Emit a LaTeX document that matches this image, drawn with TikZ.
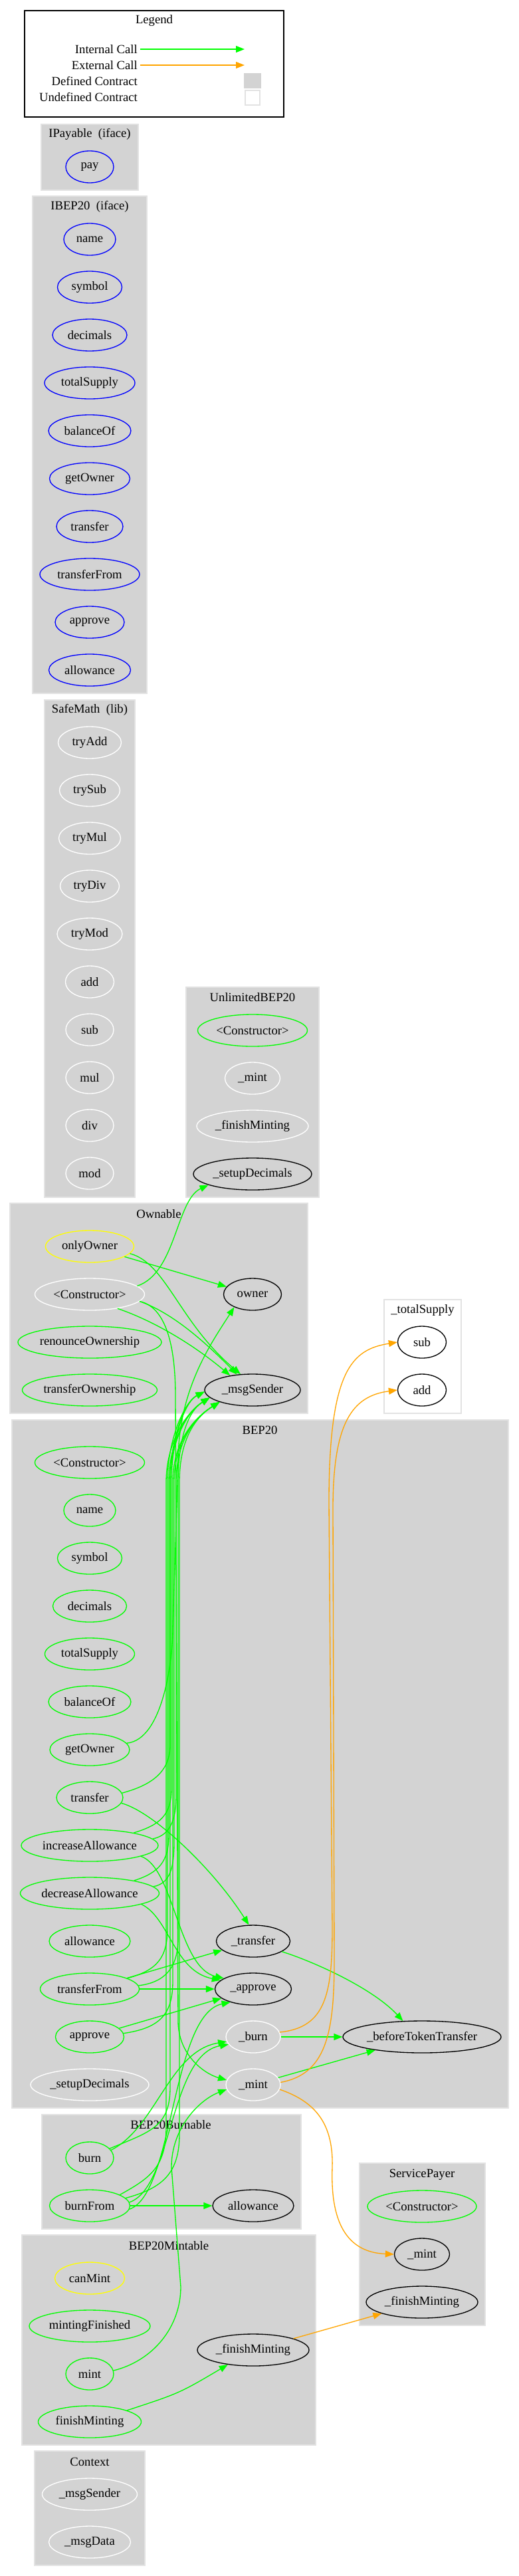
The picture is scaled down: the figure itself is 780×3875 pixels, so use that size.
\documentclass[tikz,border=0pt]{standalone}
\usepackage{fontspec}
\setmainfont{Liberation Serif}
\usetikzlibrary{arrows.meta,shapes.geometric}
\definecolor{callgreen}{RGB}{0,255,0}
\definecolor{callorange}{RGB}{255,165,0}
\definecolor{ctgray}{RGB}{211,211,211}
\definecolor{ctedge}{RGB}{226,226,226}
\definecolor{modyellow}{RGB}{255,255,0}

\begin{document}
\begin{tikzpicture}[
    x=1pt, y=-1pt,
    font=\fontsize{18.67}{22}\selectfont,
    fn/.style={ellipse, draw, line width=1.33pt, minimum height=48pt, inner sep=0pt},
    pub/.style={fn, draw=callgreen},
    ext/.style={fn, draw=blue},
    intl/.style={fn, draw=white},
    undef/.style={fn, draw=black},
    modif/.style={fn, draw=modyellow},
    cluster/.style={fill=ctgray, draw=ctedge, line width=1.33pt},
    ctitle/.style={inner sep=0pt},
    icall/.style={draw=callgreen, line width=1.33pt, -{Triangle[length=13pt,width=10pt]}},
    ecall/.style={icall, draw=callorange}
]
\useasboundingbox[fill=white] (0,0) rectangle (780,3875);

% Legend
\draw[line width=1.33pt] (37,16) rectangle (427,176);
\node[ctitle] (lg_title) at (232,31) {Legend};
\node[ctitle, anchor=east] (lg_int) at (207,74) {Internal Call};
\node[ctitle, anchor=east] (lg_ext) at (207,98) {External Call};
\node[ctitle, anchor=east] (lg_def) at (207,122) {Defined Contract};
\node[ctitle, anchor=east] (lg_undef) at (207,146) {Undefined Contract};
\coordinate (lg_int_a) at (211,74);
\coordinate (lg_int_b) at (368,74);
\coordinate (lg_ext_a) at (211,98);
\coordinate (lg_ext_b) at (368,98);
\draw[icall] (lg_int_a) -- (lg_int_b);
\draw[ecall] (lg_ext_a) -- (lg_ext_b);
\node[fill=ctgray, inner sep=0pt, minimum width=26pt, minimum height=23pt] (lg_defbox) at (380,122) {};
\node[draw=ctedge, line width=1.33pt, inner sep=0pt, minimum width=22pt, minimum height=22pt] (lg_undefbox) at (380,147) {};

% IPayable
\path[cluster] (62,187) rectangle (208,286);
\node[ctitle] (ip_title) at (135,202) {IPayable\ \ (iface)};
\node[ext, minimum width=72pt] (ip_pay) at (135,251) {pay};

% IBEP20
\path[cluster] (49,295) rectangle (221,1043);
\node[ctitle] (ib_title) at (135,311) {IBEP20\ \ (iface)};
\node[ext, minimum width=78pt] (ib_name) at (135,360) {name};
\node[ext, minimum width=97pt] (ib_symbol) at (135,432) {symbol};
\node[ext, minimum width=112pt] (ib_decimals) at (135,504) {decimals};
\node[ext, minimum width=136pt] (ib_totalsupply) at (135,576) {totalSupply};
\node[ext, minimum width=124pt] (ib_balanceof) at (135,648) {balanceOf};
\node[ext, minimum width=121pt] (ib_getowner) at (135,720) {getOwner};
\node[ext, minimum width=100pt] (ib_transfer) at (135,792) {transfer};
\node[ext, minimum width=150pt] (ib_transferfrom) at (135,864) {transferFrom};
\node[ext, minimum width=104pt] (ib_approve) at (135,936) {approve};
\node[ext, minimum width=123pt] (ib_allowance) at (135,1008) {allowance};

% SafeMath
\path[cluster] (67,1053) rectangle (203,1801);
\node[ctitle] (sm_title) at (135,1068) {SafeMath\ \ (lib)};
\node[intl, minimum width=95pt] (sm_tryadd) at (135,1117) {tryAdd};
\node[intl, minimum width=91pt] (sm_trysub) at (135,1189) {trySub};
\node[intl, minimum width=93pt] (sm_trymul) at (135,1261) {tryMul};
\node[intl, minimum width=89pt] (sm_trydiv) at (135,1333) {tryDiv};
\node[intl, minimum width=98pt] (sm_trymod) at (135,1405) {tryMod};
\node[intl, minimum width=73pt] (sm_add) at (135,1477) {add};
\node[intl, minimum width=72pt] (sm_sub) at (135,1549) {sub};
\node[intl, minimum width=72pt] (sm_mul) at (135,1621) {mul};
\node[intl, minimum width=72pt] (sm_div) at (135,1693) {div};
\node[intl, minimum width=72pt] (sm_mod) at (135,1765) {mod};

% UnlimitedBEP20
\path[cluster] (280,1485) rectangle (480,1801);
\node[ctitle] (ub_title) at (380,1500) {UnlimitedBEP20};
\node[pub, minimum width=165pt] (ub_ctor) at (380,1550) {<Constructor>};
\node[intl, minimum width=83pt] (ub_mint) at (380,1622) {\_mint};
\node[intl, minimum width=168pt] (ub_finishminting) at (380,1694) {\_finishMinting};
\node[undef, minimum width=178pt] (ub_setupdecimals) at (380,1766) {\_setupDecimals};

% Ownable
\path[cluster] (15,1810) rectangle (463,2126);
\node[ctitle] (ow_title) at (239,1826) {Ownable};
\node[modif, minimum width=133pt] (ow_onlyowner) at (135,1875) {onlyOwner};
\node[intl, minimum width=165pt] (ow_ctor) at (135,1947) {<Constructor>};
\node[pub, minimum width=216pt] (ow_renounce) at (135,2019) {renounceOwnership};
\node[pub, minimum width=203pt] (ow_transferown) at (135,2091) {transferOwnership};
\node[undef, minimum width=87pt] (ow_owner) at (380,1947) {owner};
\node[undef, minimum width=144pt] (ow_msgsender) at (380,2091) {\_msgSender};

% _totalSupply
\path[draw=ctedge, line width=1.33pt, fill=white] (578,1955) rectangle (694,2126);
\node[ctitle] (ts_title) at (636,1971) {\_totalSupply};
\node[undef, minimum width=73pt] (ts_sub) at (635,2019) {sub};
\node[undef, minimum width=73pt] (ts_add) at (635,2091) {add};

% BEP20
\path[cluster] (18,2136) rectangle (765,3171);
\node[ctitle] (b_title) at (391,2151) {BEP20};
\node[pub, minimum width=165pt] (b_ctor) at (135,2200) {<Constructor>};
\node[pub, minimum width=78pt] (b_name) at (135,2272) {name};
\node[pub, minimum width=97pt] (b_symbol) at (135,2344) {symbol};
\node[pub, minimum width=111pt] (b_decimals) at (135,2416) {decimals};
\node[pub, minimum width=135pt] (b_totalsupply) at (135,2488) {totalSupply};
\node[pub, minimum width=124pt] (b_balanceof) at (135,2560) {balanceOf};
\node[pub, minimum width=120pt] (b_getowner) at (135,2632) {getOwner};
\node[pub, minimum width=100pt] (b_transfer) at (135,2704) {transfer};
\node[pub, minimum width=206pt] (b_incr) at (135,2776) {increaseAllowance};
\node[pub, minimum width=209pt] (b_decr) at (135,2848) {decreaseAllowance};
\node[pub, minimum width=122pt] (b_allowance) at (135,2920) {allowance};
\node[pub, minimum width=149pt] (b_tfrom) at (135,2992) {transferFrom};
\node[pub, minimum width=103pt] (b_approve) at (135,3064) {approve};
\node[intl, minimum width=178pt] (b_setupdecimals) at (135,3136) {\_setupDecimals};
\node[undef, minimum width=111pt] (b_xfer) at (381,2920) {\_transfer};
\node[undef, minimum width=115pt] (b_appr) at (381,2992) {\_approve};
\node[intl, minimum width=82pt] (b_burn) at (381,3064) {\_burn};
\node[intl, minimum width=82pt] (b_mint) at (381,3136) {\_mint};
\node[undef, minimum width=238pt] (b_btt) at (635,3064) {\_beforeTokenTransfer};

% BEP20Burnable
\path[cluster] (63,3181) rectangle (453,3353);
\node[ctitle] (bb_title) at (257,3196) {BEP20Burnable};
\node[pub, minimum width=72pt] (bb_burn) at (135,3246) {burn};
\node[pub, minimum width=121pt] (bb_burnfrom) at (135,3318) {burnFrom};
\node[undef, minimum width=122pt] (bb_allowance) at (381,3318) {allowance};

% BEP20Mintable
\path[cluster] (33,3362) rectangle (475,3678);
\node[ctitle] (bm_title) at (254,3378) {BEP20Mintable};
\node[modif, minimum width=105pt] (bm_canmint) at (135,3427) {canMint};
\node[pub, minimum width=182pt] (bm_mintingfinished) at (135,3499) {mintingFinished};
\node[pub, minimum width=72pt] (bm_mint) at (135,3571) {mint};
\node[pub, minimum width=155pt] (bm_finishminting) at (135,3643) {finishMinting};
\node[undef, minimum width=168pt] (bm_finishmint) at (381,3535) {\_finishMinting};

% ServicePayer
\path[cluster] (541,3254) rectangle (730,3498);
\node[ctitle] (sp_title) at (635,3271) {ServicePayer};
\node[pub, minimum width=164pt] (sp_ctor) at (635,3319) {<Constructor>};
\node[undef, minimum width=83pt] (sp_mint) at (635,3391) {\_mint};
\node[undef, minimum width=168pt] (sp_finishmint) at (635,3463) {\_finishMinting};

% Context
\path[cluster] (52,3687) rectangle (218,3859);
\node[ctitle] (cx_title) at (135,3703) {Context};
\node[intl, minimum width=143pt] (cx_msgsender) at (135,3752) {\_msgSender};
\node[intl, minimum width=123pt] (cx_msgdata) at (135,3824) {\_msgData};

% Ownable calls
\draw[icall] (ow_onlyowner) -- (ow_owner);
\draw[icall] (ow_onlyowner.-10) .. controls (250,1900) and (270,1990) .. (ow_msgsender.127);
\draw[icall] (ow_ctor.-8) .. controls (260,1975) and (310,2020) .. (ow_msgsender.135);
\draw[icall] (ow_ctor.-27) .. controls (240,1990) and (300,2030) .. (ow_msgsender.147);
\draw[icall] (ow_ctor.10) .. controls (265,1915) and (265,1805) .. (ub_setupdecimals.194);
\draw[icall] (ow_ctor.-8) .. controls +(45,10) and +(0,-60) .. (264,2100) -- (268,3040) .. controls +(0,50) and +(-35,-10) .. (b_mint.170);

% BEP20 calls up to Ownable
\draw[icall] (b_getowner.10) .. controls +(55,-5) and +(0,45) .. (260,2450) -- (268,2200) .. controls +(0,-110) and +(-35,55) .. (ow_owner.215);
\draw[icall] (b_transfer.8) .. controls +(45,-12) and +(0,40) .. (256,2625) -- (256,2230) .. controls +(0,-60) and +(-35,22) .. (ow_msgsender.190);
\draw[icall] (b_incr.16) .. controls +(40,-12) and +(0,40) .. (258,2690) -- (258,2230) .. controls +(0,-65) and +(-30,15) .. (ow_msgsender.182);
\draw[icall] (b_incr.6) .. controls +(25,-5) and +(0,40) .. (265,2700) -- (265,2230) .. controls +(0,-60) and +(-40,25) .. (ow_msgsender.200);
\draw[icall] (b_decr.16) .. controls +(38,-12) and +(0,40) .. (254,2760) -- (254,2230) .. controls +(0,-60) and +(-35,22) .. (ow_msgsender.190);
\draw[icall] (b_decr.6) .. controls +(25,-5) and +(0,40) .. (262,2770) -- (262,2230) .. controls +(0,-60) and +(-40,25) .. (ow_msgsender.200);
\draw[icall] (b_tfrom.16) .. controls +(45,-12) and +(0,45) .. (252,2900) -- (252,2230) .. controls +(0,-65) and +(-30,15) .. (ow_msgsender.182);
\draw[icall] (b_tfrom.4) .. controls +(40,-5) and +(0,45) .. (268,2915) -- (268,2230) .. controls +(0,-60) and +(-35,22) .. (ow_msgsender.190);
\draw[icall] (b_approve.6) .. controls +(55,-8) and +(0,50) .. (260,2980) -- (260,2230) .. controls +(0,-60) and +(-40,25) .. (ow_msgsender.200);
\draw[icall] (bb_burn.25) .. controls +(60,-25) and +(0,60) .. (256,3140) -- (256,2230) .. controls +(0,-65) and +(-30,15) .. (ow_msgsender.182);
\draw[icall] (bb_burnfrom.20) .. controls +(45,-25) and +(0,60) .. (250,3200) -- (250,2230) .. controls +(0,-60) and +(-35,22) .. (ow_msgsender.190);
\draw[icall] (bb_burnfrom.12) .. controls +(55,-15) and +(0,60) .. (270,3210) -- (270,2230) .. controls +(0,-60) and +(-40,25) .. (ow_msgsender.200);

% BEP20 internal calls
\draw[icall] (b_transfer.-10) .. controls (230,2725) and (320,2810) .. (b_xfer.105);
\draw[icall] (b_incr.-12) .. controls (262,2810) and (268,2960) .. (b_appr.160);
\draw[icall] (b_decr.-12) .. controls (255,2885) and (262,2965) .. (b_appr.165);
\draw[icall] (b_tfrom) -- (b_xfer);
\draw[icall] (b_tfrom) -- (b_appr);
\draw[icall] (b_approve) -- (b_appr);
\draw[icall] (b_xfer.-20) .. controls (470,2950) and (560,2990) .. (b_btt.140);
\draw[icall] (b_burn) -- (b_btt);
\draw[icall] (b_mint) -- (b_btt);
\draw[icall] (bb_burn.20) .. controls (235,3200) and (255,3085) .. (b_burn.190);
\draw[icall] (bb_burnfrom.5) .. controls (260,3290) and (255,3090) .. (b_burn.197);
\draw[icall] (bb_burnfrom.-5) .. controls (262,3300) and (258,3030) .. (b_appr.210);
\draw[icall] (bb_burnfrom) -- (bb_allowance);
\draw[icall] (bm_mint.8) .. controls +(60,-15) and +(0,60) .. (272,3440) -- (258,3260) .. controls +(0,-60) and +(-40,15) .. (b_mint.190);
\draw[icall] (bm_finishminting.17) .. controls (270,3600) .. (bm_finishmint.210);

% external calls
\draw[ecall] (b_burn.10) .. controls (490,3050) and (500,3000) .. (500,2900) -- (495,2260) .. controls (495,2060) and (530,2030) .. (ts_sub.180);
\draw[ecall] (b_mint.5) .. controls (490,3120) and (503,3060) .. (503,2950) -- (501,2270) .. controls (501,2140) and (530,2100) .. (ts_add.180);
\draw[ecall] (b_mint.-10) .. controls (470,3160) and (502,3190) .. (500,3260) .. controls (497,3340) and (520,3388) .. (sp_mint.west);
\draw[ecall] (bm_finishmint) -- (sp_finishmint);

\end{tikzpicture}
\end{document}
